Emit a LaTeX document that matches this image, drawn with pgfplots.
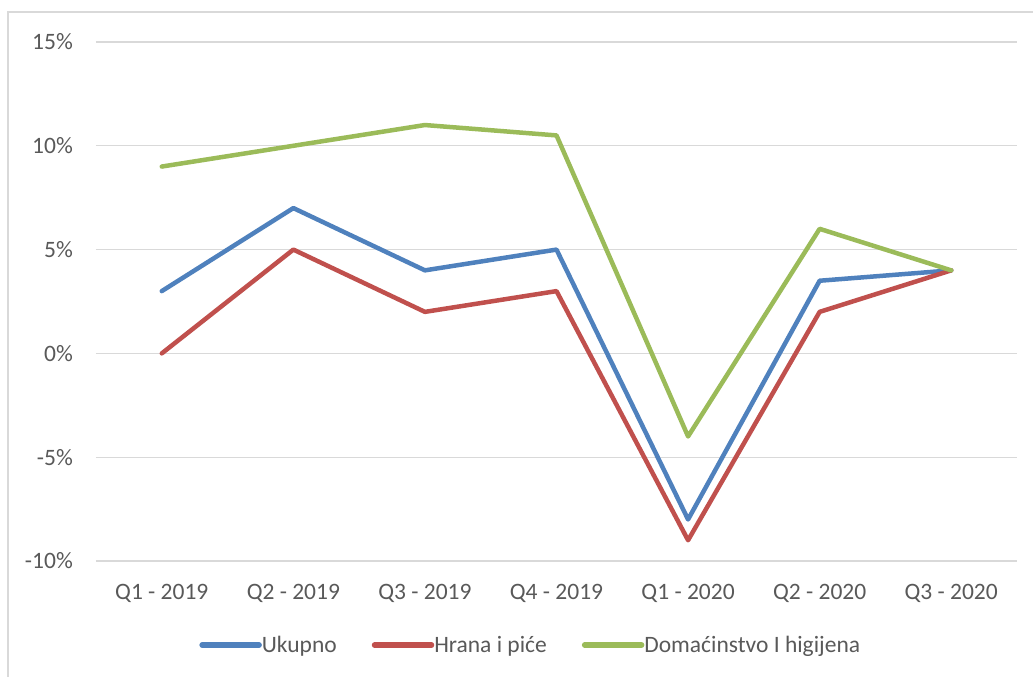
\documentclass[border=0pt]{standalone}
\usepackage{fontspec}
\setmainfont{Carlito}
\usepackage{pgfplots}
\pgfplotsset{compat=1.18}
\definecolor{ukBlue}{HTML}{4F81BD}
\definecolor{hrRed}{HTML}{C0504D}
\definecolor{doGreen}{HTML}{9BBB59}
\definecolor{gridGray}{HTML}{D9D9D9}
\definecolor{txtGray}{HTML}{595959}
\begin{document}
\begin{tikzpicture}[x=1pt,y=1pt]
\path[use as bounding box] (0,0) rectangle (1033,677);
% chart area border (left and top only visible)
\draw[gridGray, line width=1.5pt] (8,0) -- (8,665) -- (1033,665);
\begin{axis}[
    at={(96pt,116pt)}, anchor=south west,
    scale only axis,
    width=921pt, height=519pt,
    xmin=-0.5, xmax=6.5,
    ymin=-10, ymax=15,
    xtick={0,1,2,3,4,5,6},
    xticklabels={Q1 - 2019, Q2 - 2019, Q3 - 2019, Q4 - 2019, Q1 - 2020, Q2 - 2020, Q3 - 2020},
    ytick={-10,-5,0,5,10,15},
    yticklabels={-10\%,-5\%,0\%,5\%,10\%,15\%},
    ymajorgrids,
    grid style={gridGray, line width=1.3pt},
    axis line style={draw=none},
    major tick style={draw=none},
    tick label style={font=\fontsize{23.5}{28}\selectfont, text=txtGray, inner sep=0pt},
    yticklabel style={anchor=east, xshift=-23pt},
    xticklabel style={anchor=north, yshift=-23pt},
    every axis plot/.append style={line width=4.5pt, line join=round, line cap=round},
    legend style={draw=none, fill=none, at={(0.471,-0.162)}, anchor=center,
        legend columns=3, font=\fontsize{23.5}{28}\selectfont, text=txtGray,
        inner sep=0pt, row sep=0pt,
        /tikz/every even column/.append style={column sep=35pt},
        nodes={inner sep=0pt, anchor=west, xshift=4pt}},
    legend image code/.code={\draw[#1, line width=5.5pt, line cap=round] (0pt,0pt) -- (57pt,0pt);},
]
\addplot[ukBlue] coordinates {(0,3) (1,7) (2,4) (3,5) (4,-8) (5,3.5) (6,4)};
\addlegendentry{Ukupno}
\addplot[hrRed] coordinates {(0,0) (1,5) (2,2) (3,3) (4,-9) (5,2) (6,4)};
\addlegendentry{Hrana i piće}
\addplot[doGreen] coordinates {(0,9) (1,10) (2,11) (3,10.5) (4,-4) (5,6) (6,4)};
\addlegendentry{Domaćinstvo I higijena}
\end{axis}
\end{tikzpicture}
\end{document}
